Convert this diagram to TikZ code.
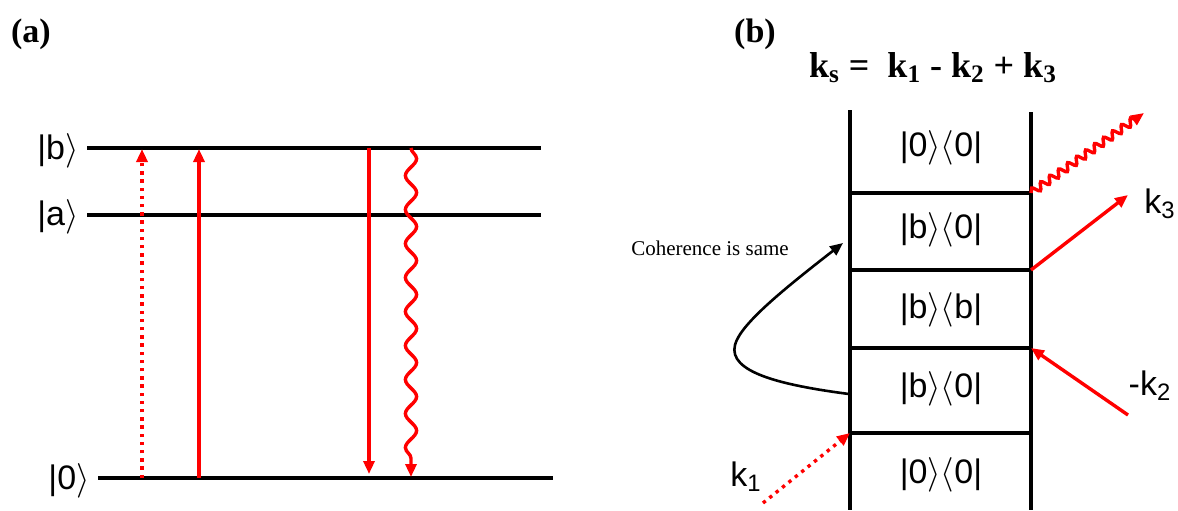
\documentclass[tikz,border=0pt]{standalone}
\usepackage{fontspec}
\setmainfont{Liberation Serif}
\newfontfamily\arialfont{Liberation Sans}
\usetikzlibrary{arrows.meta,decorations.pathmorphing}

\newcommand{\kt}[1]{|#1$\rangle$}
\newcommand{\kb}[2]{|#1$\rangle\langle$#2|}

\tikzset{
  level/.style={line width=1.7pt},
  redpulse/.style={red, line width=1.7pt, -{Triangle[length=6.5pt,width=5.5pt]}},
  reddots/.style={redpulse, dash pattern=on 1.7pt off 2.4pt},
  slowwave/.style={decorate, decoration={snake, amplitude=2.8pt, segment length=17pt, post length=5pt}},
  fastwave/.style={decorate, decoration={snake, amplitude=1.8pt, segment length=5.5pt, post length=5pt}},
  ketlabel/.style={font=\arialfont\fontsize{17}{17}\selectfont, inner sep=0pt},
  panel/.style={font=\bfseries\fontsize{17}{17}\selectfont},
}

\begin{document}
\begin{tikzpicture}[x=0.5pt, y=-0.5pt]
\useasboundingbox (0,0) rectangle (1178,510);
% (a) energy levels
\node[panel] (pa) at (31,34) {(a)};
\draw[level] (87,148) coordinate (b-l) -- (541,148) coordinate (b-r);
\draw[level] (87,215) coordinate (a-l) -- (541,215) coordinate (a-r);
\draw[level] (98,478) coordinate (g-l) -- (553,478) coordinate (g-r);
\node[ketlabel] (lb) at (58,151) {\kt{b}};
\node[ketlabel] (la) at (58,217) {\kt{a}};
\node[ketlabel] (lg) at (69,481) {\kt{0}};
% transitions
\coordinate (u1s) at (142,478); \coordinate (u1e) at (142,149);
\coordinate (u2s) at (199,478); \coordinate (u2e) at (199,149);
\coordinate (d1s) at (369,148); \coordinate (d1e) at (369,474);
\coordinate (d2s) at (411,148); \coordinate (d2e) at (411,477);
\draw[reddots] (u1s) -- (u1e);
\draw[redpulse] (u2s) -- (u2e);
\draw[redpulse] (d1s) -- (d1e);
\draw[redpulse, slowwave] (d2s) -- (d2e);

% (b) ladder diagram
\node[panel] (pb) at (755,34) {(b)};
\node[font=\bfseries\fontsize{18}{18}\selectfont] (ks) at (933,68)
  {k\textsubscript{s} =\ \ k\textsubscript{1} - k\textsubscript{2} + k\textsubscript{3}};
\draw[level] (850,110) -- (850,510);
\draw[level] (1031,112) -- (1031,510);
\foreach \y [count=\i] in {193,270,348,433}
  \draw[level] (850,\y) coordinate (r\i-l) -- (1031,\y) coordinate (r\i-r);
\node[ketlabel] (c1) at (941,148) {\kb{0}{0}};
\node[ketlabel] (c2) at (941,230) {\kb{b}{0}};
\node[ketlabel] (c3) at (941,310) {\kb{b}{b}};
\node[ketlabel] (c4) at (941,389) {\kb{b}{0}};
\node[ketlabel] (c5) at (941,475) {\kb{0}{0}};
% pulses
\coordinate (k1s) at (763,503);
\coordinate (k2s) at (1128,415);
\coordinate (k3e) at (1128,195);
\coordinate (kse) at (1144,113);
\draw[reddots] (k1s) -- (r4-l);
\draw[redpulse] (k2s) -- (r3-r);
\draw[redpulse] (r2-r) -- (k3e);
\draw[redpulse, fastwave] (r1-r) -- (kse);
\node[ketlabel] (k1) at (746,477) {k\textsubscript{1}};
\node[ketlabel] (k2) at (1150,386) {-k\textsubscript{2}};
\node[ketlabel] (k3) at (1160,204) {k\textsubscript{3}};
% coherence
\node[font=\fontsize{10.5}{10.5}\selectfont] (coh) at (710,248) {Coherence is same};
\coordinate (cs) at (849,394);
\coordinate (ce) at (843,243);
\draw[line width=1.3pt, -{Triangle[length=6.5pt,width=5.5pt]}] (cs)
  .. controls (780,385) and (728,372) .. (735,345)
  .. controls (740,325) and (780,292) .. (ce);
\end{tikzpicture}
\end{document}
